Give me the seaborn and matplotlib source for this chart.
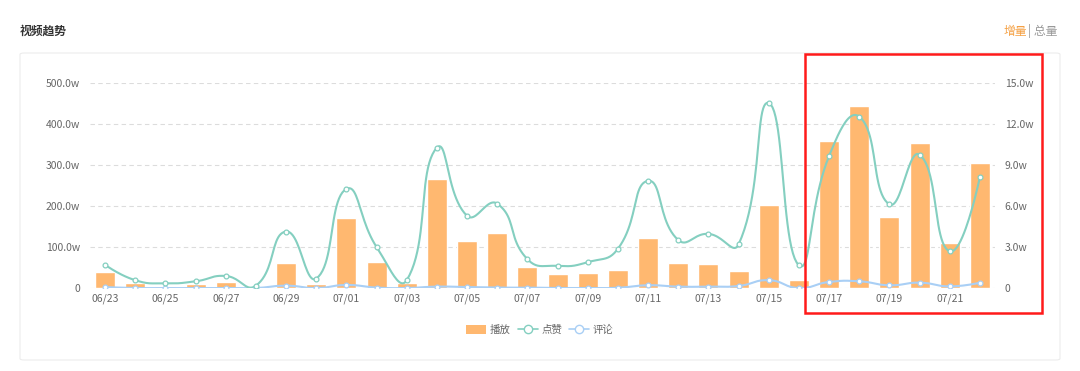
import numpy as np
import pandas as pd
import matplotlib
matplotlib.use("Agg")
import matplotlib.pyplot as plt
import seaborn as sns
from matplotlib.patches import FancyBboxPatch, Rectangle, Patch
from matplotlib.lines import Line2D

# ---------------- data ----------------
dates = ["06/23", "06/24", "06/25", "06/26", "06/27", "06/28", "06/29", "06/30",
         "07/01", "07/02", "07/03", "07/04", "07/05", "07/06", "07/07", "07/08",
         "07/09", "07/10", "07/11", "07/12", "07/13", "07/14", "07/15", "07/16",
         "07/17", "07/18", "07/19", "07/20", "07/21", "07/22"]
plays = [38.5, 12, 6, 9, 14, 3, 60.7, 10.7, 170, 63, 11.5, 266, 115, 134, 52, 34,
         37, 43, 123, 60, 58, 41, 202, 19, 359, 444, 174, 353, 110, 304]          # 万
likes = [1.70, 0.57, 0.34, 0.49, 0.88, 0.17, 4.13, 0.69, 7.25, 3.0, 0.57, 10.27,
         5.28, 6.17, 2.11, 1.62, 1.89, 2.87, 7.84, 3.51, 3.96, 3.19, 13.54, 1.66,
         9.66, 12.54, 6.12, 9.76, 2.68, 8.12]                                      # 万
comments = [0.07, 0.0, 0.0, 0.0, 0.0, 0.0, 0.17, 0.0, 0.22, 0.03, 0.0, 0.10,
            0.07, 0.03, 0.03, 0.0, 0.0, 0.02, 0.20, 0.10, 0.10, 0.15, 0.57, 0.0,
            0.44, 0.49, 0.20, 0.39, 0.12, 0.39]                                    # 万
left_ticks = [0, 100, 200, 300, 400, 500]
left_labels = ["0", "100.0w", "200.0w", "300.0w", "400.0w", "500.0w"]
right_ticks = [0, 3, 6, 9, 12, 15]
right_labels = ["0", "3.0w", "6.0w", "9.0w", "12.0w", "15.0w"]
legend_labels = ["播放", "点赞", "评论"]

BAR = "#ffb870"
TEAL = "#84cfc0"
BLUE = "#a9cff5"
TXT = "#666666"

sns.set_theme(style="white")
plt.rcParams["font.family"] = ["Noto Sans CJK SC", "DejaVu Sans"]

W, H = 1080, 371
fig = plt.figure(figsize=(W / 100, H / 100), dpi=100)

# card
fig.patches.append(FancyBboxPatch((20 / W, 1 - 360 / H), 1040 / W, 307 / H,
                                  boxstyle="round,pad=0,rounding_size=0.004",
                                  transform=fig.transFigure, facecolor="white",
                                  edgecolor="#ececec", linewidth=0.8, zorder=-5))

fig.text(20 / W, 1 - 31 / H, "视频趋势", fontsize=8.5, fontweight="bold",
         color="#333333", va="center", ha="left")
fig.text(1027 / W, 1 - 31 / H, "增量", fontsize=8.5, color="#f5a043",
         va="center", ha="right")
fig.text(1028 / W, 1 - 31 / H, "| 总量", fontsize=8.5, color="#999999",
         va="center", ha="left")

ax = fig.add_axes([90 / W, 1 - 288 / H, 905 / W, 205 / H])
ax.set_zorder(1)
ax.set_facecolor("none")
df = pd.DataFrame({"date": dates, "plays": plays})
sns.barplot(data=df, x="date", y="plays", ax=ax, color=BAR, saturation=1,
            width=0.66, zorder=2)
ax.set_xlim(-0.5, len(dates) - 0.5)
ax.set_ylim(0, 500)
ax.set_yticks(left_ticks)
ax.set_yticklabels(left_labels)
ax.set_xticks(range(0, len(dates), 2))
ax.set_xticklabels(dates[::2])
ax.set_xlabel("")
ax.set_ylabel("")
for y in left_ticks:
    ax.axhline(y, color="#dcdcdc", linestyle=(0, (4, 3)), linewidth=0.8, zorder=1)
for s in ax.spines.values():
    s.set_visible(False)
ax.tick_params(axis="both", length=0, labelsize=7.5, colors=TXT)
ax.tick_params(axis="y", pad=7)
ax.tick_params(axis="x", pad=4)

ax2 = ax.twinx()
ax2.set_zorder(2)
ax2.set_facecolor("none")
ax2.set_ylim(0, 15)
ax2.set_yticks(right_ticks)
ax2.set_yticklabels(right_labels)
for s in ax2.spines.values():
    s.set_visible(False)
ax2.tick_params(axis="y", length=0, labelsize=7.5, colors=TXT, pad=7)
ax2.grid(False)

# ECharts-like smoothing computed in pixel space
sx = 905 / len(dates)
sy = 205 / 15.0


def smooth_curve(vals, smooth=0.5, n=24):
    pts = np.column_stack([np.arange(len(vals)) * sx, np.asarray(vals) * sy])
    m = len(pts)
    cp0 = pts.copy()
    cp1 = pts.copy()
    for i in range(1, m - 1):
        prev, p, nxt = pts[i - 1], pts[i], pts[i + 1]
        v = (nxt - prev) * smooth
        a = np.linalg.norm(p - prev)
        b = np.linalg.norm(nxt - p)
        s = a + b
        a, b = a / s, b / s
        cp0[i] = p - v * a
        cp1[i] = p + v * b
    out = []
    t = np.linspace(0, 1, n)[:, None]
    for i in range(m - 1):
        p0, c1, c2, p3 = pts[i], cp1[i], cp0[i + 1], pts[i + 1]
        seg = ((1 - t) ** 3) * p0 + 3 * ((1 - t) ** 2) * t * c1 + \
            3 * (1 - t) * t ** 2 * c2 + t ** 3 * p3
        out.append(seg if i == 0 else seg[1:])
    out = np.vstack(out)
    return out[:, 0] / sx, out[:, 1] / sy


for vals, col in [(comments, BLUE), (likes, TEAL)]:
    cx, cy = smooth_curve(vals)
    sns.lineplot(x=cx, y=cy, ax=ax2, color=col, linewidth=1.5, sort=False,
                 estimator=None, zorder=3)
    sns.scatterplot(x=np.arange(len(vals)), y=vals, ax=ax2, s=12,
                    facecolor="white", edgecolor=col, linewidth=0.9, zorder=4)
ax2.set_xlim(-0.5, len(dates) - 0.5)

# red highlight box
fig.patches.append(Rectangle((805 / W, 1 - 313 / H), 237 / W, 259 / H,
                             transform=fig.transFigure, fill=False,
                             edgecolor="#ff1a1a", linewidth=1.8, zorder=10))

handles = [Patch(facecolor=BAR, edgecolor="none"),
           Line2D([0], [0], color=TEAL, marker="o", markersize=6,
                  markerfacecolor="white", markeredgecolor=TEAL, linewidth=1.2),
           Line2D([0], [0], color=BLUE, marker="o", markersize=6,
                  markerfacecolor="white", markeredgecolor=BLUE, linewidth=1.2)]
fig.legend(handles, legend_labels, loc="center", bbox_to_anchor=(540 / W, 1 - 330 / H),
           ncol=3, frameon=False, fontsize=7.5, handlelength=1.9, handleheight=0.9,
           handletextpad=0.35, columnspacing=0.7, labelcolor=TXT)

fig.savefig("out.png", dpi=100)
